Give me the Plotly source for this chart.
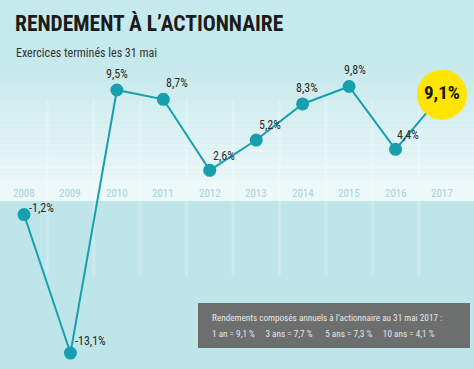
import plotly.graph_objects as go

years = [2008, 2009, 2010, 2011, 2012, 2013, 2014, 2015, 2016, 2017]
returns = [-1.2, -13.1, 9.5, 8.7, 2.6, 5.2, 8.3, 9.8, 4.4, 9.1]
labels = ["-1,2%", "-13,1%", "9,5%", "8,7%", "2,6%", "5,2%", "8,3%", "9,8%", "4,4%", "9,1%"]
title = "RENDEMENT À L’ACTIONNAIRE"
subtitle = "Exercices terminés les 31 mai"
box_line1 = "Rendements composés annuels à l’actionnaire au 31 mai 2017 :"
box_line2 = "1 an = 9,1 %     3 ans = 7,7 %      5 ans = 7,3 %     10 ans = 4,1 %"

W, H = 474, 369
TEAL = "#179fae"
FONT = "Roboto Condensed, Roboto, sans-serif"
XR = [2007.483, 2017.69]
YR = [-14.47, 17.23]

def py(px):
    return 1 - px / H

def px2y(px):
    return YR[1] - px / H * (YR[1] - YR[0])

fig = go.Figure()
shapes = []

# gradient above zero line
top_px, bot_px = 60, 185
n = 24
c0 = (198, 233, 236)
c1 = (236, 248, 249)
for i in range(n):
    t = i / (n - 1)
    c = tuple(int(c0[k] + (c1[k] - c0[k]) * t) for k in range(3))
    y0 = top_px + (bot_px - top_px) * i / n
    y1 = top_px + (bot_px - top_px) * (i + 1) / n
    shapes.append(dict(type="rect", xref="paper", yref="paper", x0=0, x1=1,
                       y0=py(y1), y1=py(y0), fillcolor="rgb(%d,%d,%d)" % c, line_width=0, layer="below"))
shapes.append(dict(type="rect", xref="paper", yref="paper", x0=0, x1=1,
                   y0=py(201), y1=py(bot_px), fillcolor="#edf8f9", line_width=0, layer="below"))
shapes.append(dict(type="rect", xref="paper", yref="paper", x0=0, x1=1,
                   y0=0, y1=py(201), fillcolor="#bee5ea", line_width=0, layer="below"))
# faint column separators
for i in range(len(years) - 1):
    xm = (years[i] + years[i + 1]) / 2
    shapes.append(dict(type="line", xref="x", yref="paper", x0=xm, x1=xm,
                       y0=py(275), y1=py(100), line=dict(color="rgba(255,255,255,0.22)", width=3), layer="below"))
# grey summary box
shapes.append(dict(type="rect", xref="paper", yref="paper", x0=198 / W, x1=470 / W,
                   y0=py(348), y1=py(303), fillcolor="#6d6f6f", line_width=0))
fig.update_layout(shapes=shapes)

fig.add_trace(go.Scatter(x=years, y=returns, mode="lines+markers",
                         line=dict(color=TEAL, width=2),
                         marker=dict(color=TEAL, size=13), hoverinfo="skip"))
fig.add_trace(go.Scatter(x=[years[-1]], y=[returns[-1]], mode="markers+text",
                         marker=dict(color="#ffe500", size=50),
                         text=["<b>" + labels[-1] + "</b>"], textposition="middle center",
                         textfont=dict(size=19, color="#1a1a1a", family=FONT),
                         hoverinfo="skip"))

offsets = [(17, 7), (20, 12), (0, 16), (14, 16), (14, 14), (14, 15), (4, 16), (6, 16), (12, 14)]
anns = []
for i in range(len(years) - 1):
    dx, dy = offsets[i]
    anns.append(dict(x=years[i], y=returns[i], text=labels[i], showarrow=False,
                     xshift=dx, yshift=dy, font=dict(size=12, color="#2a2a2a", family=FONT)))
for yv in years:
    anns.append(dict(x=yv, y=px2y(193), text=str(yv), showarrow=False,
                     font=dict(size=11, color="#a3d3da", family=FONT)))
anns.append(dict(x=13 / W, y=py(23), xref="paper", yref="paper", xanchor="left", yanchor="middle",
                 text="<b>" + title + "</b>", showarrow=False,
                 font=dict(size=21.5, color="#1b1b1b", family=FONT)))
anns.append(dict(x=14 / W, y=py(53), xref="paper", yref="paper", xanchor="left", yanchor="middle",
                 text=subtitle, showarrow=False,
                 font=dict(size=12, color="#333333", family=FONT)))
anns.append(dict(x=210 / W, y=py(317), xref="paper", yref="paper", xanchor="left", yanchor="middle",
                 text=box_line1, showarrow=False,
                 font=dict(size=9.2, color="#e6e6e6", family=FONT)))
anns.append(dict(x=210 / W, y=py(333), xref="paper", yref="paper", xanchor="left", yanchor="middle",
                 text=box_line2, showarrow=False,
                 font=dict(size=9.2, color="#e6e6e6", family=FONT)))

fig.update_layout(
    width=W, height=H, margin=dict(l=0, r=0, t=0, b=0),
    paper_bgcolor="#c6e9ec", plot_bgcolor="rgba(0,0,0,0)",
    showlegend=False, annotations=anns,
    xaxis=dict(range=XR, visible=False, fixedrange=True),
    yaxis=dict(range=YR, visible=False, fixedrange=True),
)
fig.write_html("out.html", config={"displayModeBar": False},
               post_script="document.body.style.margin='0';")
